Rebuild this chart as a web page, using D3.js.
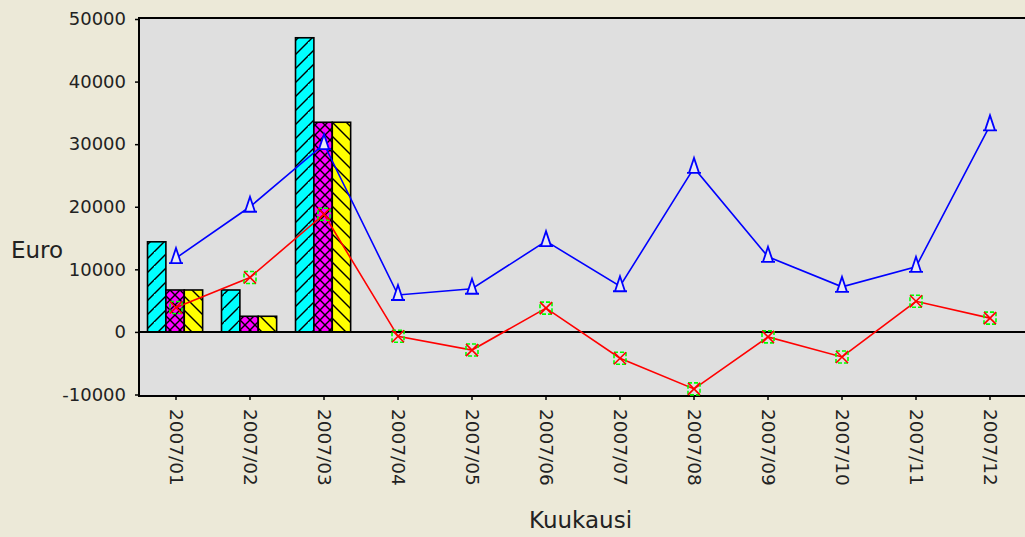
<!DOCTYPE html>
<html>
<head>
<meta charset="utf-8">
<script src="https://cdn.jsdelivr.net/npm/d3@7"></script>
<style>
  body { margin: 0; background: #ece9d8; }
  svg { display: block; font-family: 'DejaVu Sans', sans-serif; }
</style>
</head>
<body>
<svg width="1025" height="537"></svg>
<script>
const months = ['2007/01', '2007/02', '2007/03', '2007/04', '2007/05', '2007/06',
  '2007/07', '2007/08', '2007/09', '2007/10', '2007/11', '2007/12'];
const barSeries = ['cyan', 'magenta', 'yellow'];
const barCyan = [14400, 6700, 47000, 0, 0, 0, 0, 0, 0, 0, 0, 0];
const barMagenta = [6700, 2500, 33500, 0, 0, 0, 0, 0, 0, 0, 0, 0];
const barYellow = [6700, 2500, 33500, 0, 0, 0, 0, 0, 0, 0, 0, 0];
const blueLine = [11800, 20000, 30000, 5900, 6900, 14500, 7300, 26200, 12000, 7200, 10400, 33000];
const redLine = [3900, 8700, 18800, -700, -2900, 3800, -4200, -9100, -800, -4000, 4900, 2200];
const yTicks = [-10000, 0, 10000, 20000, 30000, 40000, 50000];

function createChart() {
  const svg = d3.select('svg');
  const left = 139, right = 1027, top = 18, bottom = 396;

  const defs = svg.append('defs');
  const hatch = (id, color, paths, size) => {
    const p = defs.append('pattern')
        .attr('id', id)
        .attr('patternUnits', 'userSpaceOnUse')
        .attr('width', size)
        .attr('height', size);
    p.append('rect').attr('width', size).attr('height', size).attr('fill', color);
    paths.forEach(d => p.append('path').attr('d', d)
        .attr('stroke', '#000').attr('stroke-width', 1.4).attr('fill', 'none'));
  };
  hatch('hatchCyan', '#00ffff', ['M-2,16 L16,-2', 'M-2,30 L30,-2'], 14);
  hatch('hatchMagenta', '#ff00ff', ['M0,0 L10,10', 'M0,10 L10,0', 'M-2,2 L2,-2', 'M8,12 L12,8'], 10);
  hatch('hatchYellow', '#ffff00', ['M-2,-2 L16,16', 'M-16,-2 L2,16', 'M12,-2 L30,16'], 14);

  const xScale = d3.scaleBand()
      .domain(months)
      .range([left, right]);
  const yScale = d3.scaleLinear()
      .domain([-10000, 50000])
      .range([394.5, 19]);

  svg.append('rect')
      .attr('x', left).attr('y', top)
      .attr('width', right - left).attr('height', bottom - top)
      .attr('fill', '#dfdfdf');

  const seriesValues = { cyan: barCyan, magenta: barMagenta, yellow: barYellow };
  const fills = { cyan: 'url(#hatchCyan)', magenta: 'url(#hatchMagenta)', yellow: 'url(#hatchYellow)' };
  const bw = xScale.bandwidth();
  const xInner = d3.scaleBand()
      .domain(barSeries)
      .range([bw * 0.115, bw * 0.86]);

  barSeries.forEach(key => {
    svg.append('g')
        .selectAll('rect')
        .data(months.map((m, i) => ({ m, v: seriesValues[key][i] })).filter(d => d.v !== 0))
        .join('rect')
        .attr('x', d => xScale(d.m) + xInner(key))
        .attr('y', d => yScale(d.v))
        .attr('width', xInner.bandwidth())
        .attr('height', d => yScale(0) - yScale(d.v))
        .attr('fill', fills[key])
        .attr('stroke', '#000')
        .attr('stroke-width', 1.6);
  });

  // zero line
  svg.append('line')
      .attr('x1', left).attr('x2', right)
      .attr('y1', yScale(0)).attr('y2', yScale(0))
      .attr('stroke', '#000').attr('stroke-width', 2);

  // frame
  svg.append('path')
      .attr('d', `M${right},${top} L${left},${top} L${left},${bottom} L${right},${bottom}`)
      .attr('fill', 'none').attr('stroke', '#000').attr('stroke-width', 2);

  const cx = m => xScale(m) + bw / 2;
  const line = d3.line().x(d => cx(d.m)).y(d => yScale(d.v));

  const blueData = months.map((m, i) => ({ m, v: blueLine[i] }));
  const redData = months.map((m, i) => ({ m, v: redLine[i] }));

  svg.append('path')
      .attr('d', line(blueData))
      .attr('fill', 'none').attr('stroke', '#0000ff').attr('stroke-width', 1.6);
  svg.append('path')
      .attr('d', line(redData))
      .attr('fill', 'none').attr('stroke', '#ff0000').attr('stroke-width', 1.6);

  svg.append('g')
      .selectAll('path')
      .data(blueData)
      .join('path')
      .attr('transform', d => `translate(${cx(d.m)},${yScale(d.v)})`)
      .attr('d', 'M0,-10 L-5,5 L5,5 Z M-7,5 L7,5')
      .attr('fill', '#e8e8f4')
      .attr('stroke', '#0000ff')
      .attr('stroke-width', 1.8);

  const redMarks = svg.append('g')
      .selectAll('g')
      .data(redData)
      .join('g')
      .attr('transform', d => `translate(${cx(d.m)},${yScale(d.v)})`);
  redMarks.append('rect')
      .attr('x', -6).attr('y', -6).attr('width', 12).attr('height', 12)
      .attr('fill', 'none').attr('stroke', '#00ff00')
      .attr('stroke-width', 1.6).attr('stroke-dasharray', '4,2');
  redMarks.append('path')
      .attr('d', 'M-6,-6 L6,6 M-6,6 L6,-6')
      .attr('stroke', '#ff0000').attr('stroke-width', 1.6);

  // y axis
  const yAxis = d3.axisLeft(yScale)
      .tickValues(yTicks)
      .tickSize(4)
      .tickPadding(9)
      .tickFormat(d => String(d));
  const yAxisG = svg.append('g')
      .attr('transform', `translate(${left},0)`)
      .call(yAxis);
  yAxisG.select('.domain').remove();
  yAxisG.selectAll('.tick line').attr('stroke', '#000').attr('stroke-width', 1.5);
  yAxisG.selectAll('.tick text')
      .attr('font-size', 18).attr('fill', '#222')
      .attr('font-family', 'DejaVu Sans, sans-serif');

  // x axis
  const xAxis = d3.axisBottom(xScale)
      .tickSize(4)
      .tickPadding(0);
  const xAxisG = svg.append('g')
      .attr('transform', `translate(0,${bottom})`)
      .call(xAxis);
  xAxisG.select('.domain').remove();
  xAxisG.selectAll('.tick line').attr('stroke', '#000').attr('stroke-width', 1.5);
  xAxisG.selectAll('.tick text')
      .attr('font-size', 18.5).attr('fill', '#222')
      .attr('font-family', 'DejaVu Sans, sans-serif')
      .attr('transform', 'rotate(90)')
      .attr('text-anchor', 'start')
      .attr('x', 13)
      .attr('y', 0)
      .attr('dy', '0.35em');

  svg.append('text')
      .attr('x', 11).attr('y', 258)
      .attr('font-size', 23).attr('fill', '#222')
      .text('Euro');
  svg.append('text')
      .attr('x', 529).attr('y', 528)
      .attr('font-size', 23).attr('fill', '#222')
      .text('Kuukausi');
}

createChart();
</script>
</body>
</html>
